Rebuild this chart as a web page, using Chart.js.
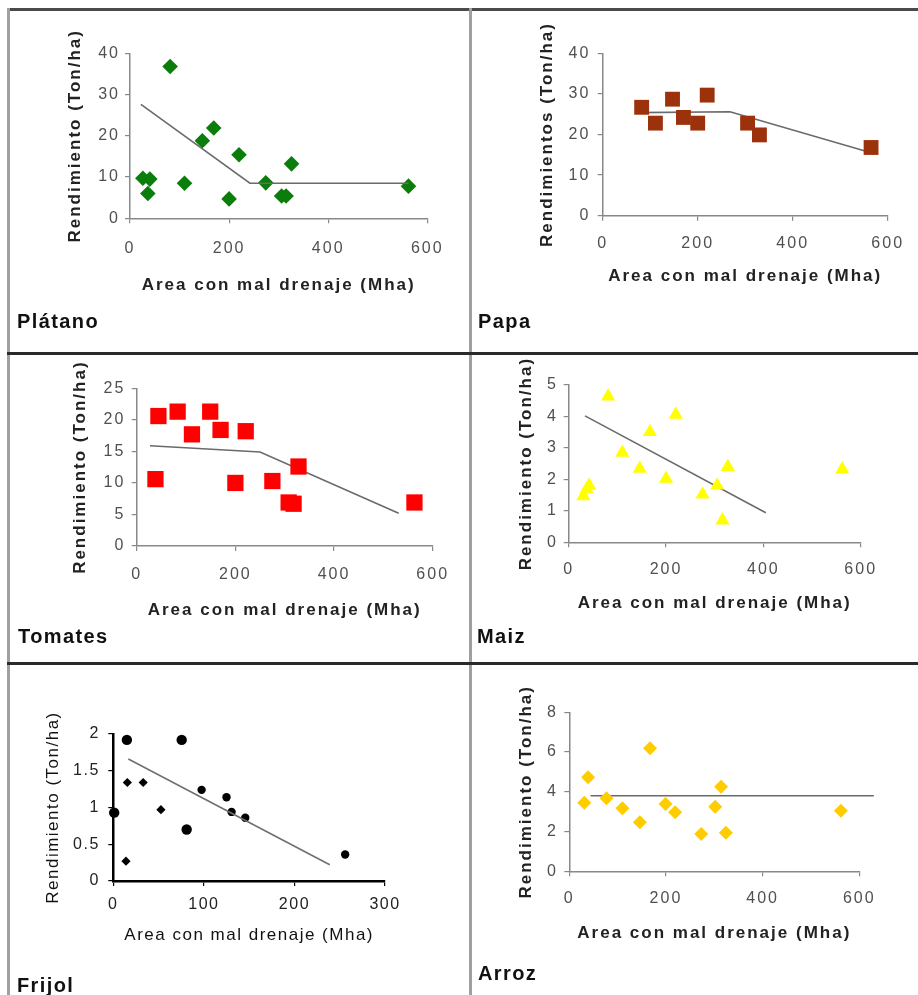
<!DOCTYPE html>
<html><head><meta charset="utf-8">
<script src="https://cdn.jsdelivr.net/npm/chart.js@4.4.0/dist/chart.umd.min.js"></script>
<style>
html,body{margin:0;padding:0;background:#fff;}
body{width:918px;height:995px;position:relative;overflow:hidden;font-family:"Liberation Sans",Arial,sans-serif;}
canvas{position:absolute;}
.ln{position:absolute;z-index:5;}
.lbl{position:absolute;font-weight:bold;font-size:20px;letter-spacing:1.4px;color:#111;line-height:24px;white-space:nowrap;}
</style></head><body>
<script>
// ---------- DATA ----------
const xTicks600 = [0, 200, 400, 600];
const xTicks300 = [0, 100, 200, 300];

const platanoYTicks = [0, 10, 20, 30, 40];
const platanoX = [26, 40, 36, 81, 110, 146, 169, 200, 220, 274, 306, 315, 326, 562];
const platanoY = [9.7, 9.5, 6.0, 36.8, 8.5, 18.8, 21.9, 4.7, 15.4, 8.6, 5.4, 5.4, 13.2, 7.8];
const platanoTrendX = [22, 242, 562];
const platanoTrendY = [27.6, 8.5, 8.5];

const papaYTicks = [0, 10, 20, 30, 40];
const papaX = [82, 111, 147, 170, 200, 220, 305, 330, 565];
const papaY = [26.7, 22.8, 28.7, 24.2, 22.8, 29.7, 22.8, 19.9, 16.8];
const papaTrendX = [72, 268, 556];
const papaTrendY = [25.4, 25.6, 15.8];

const tomatesYTicks = [0, 5, 10, 15, 20, 25];
const tomatesX = [44, 83, 112, 149, 170, 221, 38, 200, 275, 308, 318, 328, 563];
const tomatesY = [20.6, 21.3, 17.7, 21.3, 18.4, 18.2, 10.6, 10.0, 10.3, 6.9, 6.7, 12.6, 6.9];
const tomatesTrendX = [27, 250, 531];
const tomatesTrendY = [15.9, 14.9, 5.2];

const maizYTicks = [0, 1, 2, 3, 4, 5];
const maizX = [30, 37, 42, 81, 110, 146, 167, 200, 220, 275, 305, 316, 327, 562];
const maizY = [1.47, 1.69, 1.81, 4.64, 2.85, 2.34, 3.51, 2.02, 4.06, 1.52, 1.81, 0.70, 2.40, 2.32];
const maizTrendX = [33.5, 405];
const maizTrendY = [4.02, 0.94];

const frijolYTicks = [0, 0.5, 1, 1.5, 2];
const frijolBigX = [15, 75.5, 1, 81];
const frijolBigY = [1.92, 1.92, 0.93, 0.70];
const frijolMedX = [97.5, 125, 130.6, 145.7, 256];
const frijolMedY = [1.24, 1.14, 0.94, 0.86, 0.36];
const frijolSmallX = [15.5, 33, 52.6, 14];
const frijolSmallY = [1.34, 1.34, 0.97, 0.27];
const frijolTrendX = [16.6, 239];
const frijolTrendY = [1.66, 0.22];

const arrozYTicks = [0, 2, 4, 6, 8];
const arrozX = [31, 39, 77, 110, 146, 167, 199, 219, 273, 302, 314, 324, 562];
const arrozY = [3.45, 4.73, 3.67, 3.17, 2.47, 6.19, 3.39, 2.97, 1.88, 3.25, 4.26, 1.94, 3.05];
const arrozTrendX = [44, 630];
const arrozTrendY = [3.80, 3.80];

const xTitle = 'Area con mal drenaje (Mha)';
// ---------- HELPERS ----------
function pts(xs, ys) { return xs.map((x, i) => ({x: x, y: ys[i]})); }
const FAM = '"Liberation Sans", Arial, sans-serif';
const spacingPlugin = { id: 'spacing', beforeDraw(chart, args, opts) { try { chart.ctx.letterSpacing = opts.value || '0px'; } catch (e) {} } };

function scatterSet(xs, ys, style, radius, color) {
  return {data: pts(xs, ys), pointStyle: style, pointRadius: radius, pointHoverRadius: radius,
    backgroundColor: color, borderColor: color, borderWidth: 0, showLine: false, clip: false};
}
function trendSet(xs, ys, color, w) {
  return {data: pts(xs, ys), showLine: true, pointRadius: 0, pointHoverRadius: 0, borderColor: color,
    borderWidth: w, backgroundColor: color, clip: false, fill: false, tension: 0};
}
const plainLabel = v => String(v);

function makePanel(cfg) {
  const [cx, cy, cw, ch] = cfg.box;
  const [L, T, R, B] = cfg.area;
  const c = document.createElement('canvas');
  c.width = cw; c.height = ch;
  c.style.left = cx + 'px'; c.style.top = cy + 'px';
  document.body.appendChild(c);
  const Wy = L - cx, Hx = cy + ch - B;
  const tf = cfg.titleFont, lh = tf.size * 1.2;
  const yT = cfg.yTicks, xT = cfg.xTicks;
  new Chart(c, {
    type: 'scatter',
    data: {datasets: cfg.datasets},
    options: {
      responsive: false, animation: false, events: [],
      layout: {padding: {left: 0, top: T - cy, right: cx + cw - R, bottom: 0}},
      plugins: {legend: {display: false}, tooltip: {enabled: false}, spacing: {value: cfg.spacing}},
      scales: {
        x: {type: 'linear', position: 'bottom', min: xT[0], max: xT[xT.length - 1],
          afterFit: s => { s.height = Hx; },
          ticks: {stepSize: xT[1] - xT[0], padding: cfg.xPad, color: cfg.tickColor, font: cfg.tickFont, maxRotation: 0, autoSkip: false, callback: plainLabel},
          grid: {drawOnChartArea: false, drawTicks: true, tickLength: 5, color: cfg.axisColor, lineWidth: 1.2},
          border: {display: true, color: cfg.axisColor, width: cfg.axisWidth},
          title: {display: true, text: cfg.xTitle, color: cfg.titleColor, font: tf,
            padding: {top: 0, bottom: cy + ch - cfg.xTitleY - lh / 2}}},
        y: {type: 'linear', position: 'left', min: yT[0], max: yT[yT.length - 1],
          afterFit: s => { s.width = Wy; },
          ticks: {stepSize: yT[1] - yT[0], padding: cfg.yPad, color: cfg.tickColor, font: cfg.tickFont, autoSkip: false, callback: plainLabel},
          grid: {drawOnChartArea: false, drawTicks: true, tickLength: 5, color: cfg.axisColor, lineWidth: 1.2},
          border: {display: true, color: cfg.axisColor, width: cfg.axisWidth},
          title: {display: true, text: cfg.yTitle, color: cfg.titleColor, font: tf,
            padding: {top: cfg.yTitleX - cx - lh / 2, bottom: 0}}}
      }
    },
    plugins: [spacingPlugin]
  });
}

const stdTick = {family: FAM, size: 16};
const stdTitle = {family: FAM, size: 17, weight: 'bold'};
const base = {tickFont: stdTick, titleFont: stdTitle, tickColor: '#505050', titleColor: '#222',
  axisColor: '#888', axisWidth: 1.5, spacing: '2px', xTicks: xTicks600, xTitle: xTitle};
const trendColor = '#6a6a6a';

makePanel(Object.assign({}, base, {
  box: [11, 12, 458, 340], area: [130, 53.3, 427.3, 218.3],
  yTicks: platanoYTicks, yTitle: 'Rendimiento (Ton/ha)', yTitleX: 75, xTitleY: 285, xPad: 15.4, yPad: 5,
  datasets: [trendSet(platanoTrendX, platanoTrendY, trendColor, 1.6), scatterSet(platanoX, platanoY, 'rectRot', 7.8, '#0a7d0a')]
}));
makePanel(Object.assign({}, base, {
  box: [473, 12, 445, 340], area: [602.7, 53.3, 887.7, 215.7],
  yTicks: papaYTicks, yTitle: 'Rendimientos (Ton/ha)', yTitleX: 547.5, xTitleY: 276.7, xPad: 13, yPad: 7.4,
  datasets: [scatterSet(papaX, papaY, 'rect', 10.5, '#9c320c'), trendSet(papaTrendX, papaTrendY, trendColor, 1.6)]
}));
makePanel(Object.assign({}, base, {
  box: [11, 356, 458, 306], area: [136.7, 388.3, 432.7, 546],
  yTicks: tomatesYTicks, yTitle: 'Rendimiento (Ton/ha)', yTitleX: 80, xTitleY: 610, xPad: 14.4, yPad: 6.4,
  datasets: [scatterSet(tomatesX, tomatesY, 'rect', 11.5, '#ff0000'), trendSet(tomatesTrendX, tomatesTrendY, trendColor, 1.6)]
}));
makePanel(Object.assign({}, base, {
  box: [473, 356, 445, 306], area: [568.7, 385, 860.7, 542.3],
  yTicks: maizYTicks, yTitle: 'Rendimiento (Ton/ha)', yTitleX: 526.7, xTitleY: 603.3, xPad: 13.1, yPad: 5.7,
  datasets: [scatterSet(maizX, maizY, 'triangle', 8.2, '#ffff00'), trendSet(maizTrendX, maizTrendY, trendColor, 1.6)]
}));
makePanel(Object.assign({}, base, {
  box: [11, 666, 458, 329], area: [113.3, 734, 385, 881],
  tickFont: {family: FAM, size: 16}, titleFont: {family: FAM, size: 17, weight: 'normal'},
  tickColor: '#222', titleColor: '#111', axisColor: '#000', axisWidth: 2.5, spacing: '1.5px',
  xTicks: xTicks300, yTicks: frijolYTicks, yTitle: 'Rendimiento (Ton/ha)', yTitleX: 53.3, xTitleY: 935, xPad: 9.4, yPad: 8.5,
  datasets: [trendSet(frijolTrendX, frijolTrendY, '#707070', 1.6),
    scatterSet(frijolBigX, frijolBigY, 'circle', 5.2, '#000'),
    scatterSet(frijolMedX, frijolMedY, 'circle', 4.2, '#000'),
    scatterSet(frijolSmallX, frijolSmallY, 'rectRot', 4.6, '#000')]
}));
makePanel(Object.assign({}, base, {
  box: [473, 666, 445, 329], area: [569.3, 712.3, 859.3, 871.3],
  yTicks: arrozYTicks, yTitle: 'Rendimiento (Ton/ha)', yTitleX: 526.7, xTitleY: 933.3, xPad: 12.4, yPad: 6.3,
  datasets: [scatterSet(arrozX, arrozY, 'rectRot', 7, '#ffcc00'), trendSet(arrozTrendX, arrozTrendY, trendColor, 1.6)]
}));

// ---------- FRAME & PANEL NAMES ----------
function addDiv(cls, css, text) {
  const d = document.createElement('div'); d.className = cls; d.style.cssText = css;
  if (text) d.textContent = text; document.body.appendChild(d);
}
addDiv('ln', 'left:8px;top:8px;width:910px;height:3px;background:#4a4a4a;');
addDiv('ln', 'left:7px;top:8px;width:3px;height:987px;background:#a0a0a0;');
addDiv('ln', 'left:469px;top:8px;width:3px;height:987px;background:#a0a0a0;');
addDiv('ln', 'left:7px;top:352px;width:911px;height:3px;background:#2a2a2a;');
addDiv('ln', 'left:7px;top:662px;width:911px;height:3px;background:#2a2a2a;');
addDiv('lbl', 'left:17px;top:' + (320.7 - 12) + 'px;', 'Plátano');
addDiv('lbl', 'left:478px;top:' + (320.7 - 12) + 'px;', 'Papa');
addDiv('lbl', 'left:18px;top:' + (636 - 12) + 'px;', 'Tomates');
addDiv('lbl', 'left:477px;top:' + (636 - 12) + 'px;', 'Maiz');
addDiv('lbl', 'left:17px;top:' + (985 - 12) + 'px;', 'Frijol');
addDiv('lbl', 'left:478px;top:' + (973.3 - 12) + 'px;', 'Arroz');
</script>
</body></html>
